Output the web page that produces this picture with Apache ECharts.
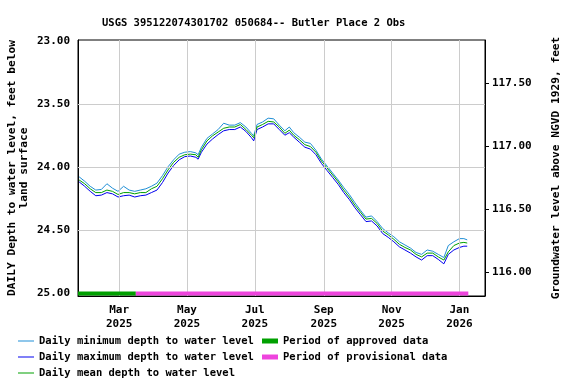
<!DOCTYPE html>
<html>
<head>
<meta charset="utf-8">
<script src="https://cdn.jsdelivr.net/npm/echarts@6/dist/echarts.min.js"></script>
<style>html,body{margin:0;padding:0;background:#fff}#c{width:576px;height:384px}</style>
</head>
<body>
<div id="c"></div>
<script>
const titleText = 'USGS 395122074301702 050684-- Butler Place 2 Obs';
const dates = ['2025-01-24','2025-01-29','2025-02-03','2025-02-08','2025-02-13','2025-02-18','2025-02-23','2025-02-28',
 '2025-03-05','2025-03-10','2025-03-15','2025-03-20','2025-03-25','2025-03-30','2025-04-04','2025-04-09','2025-04-14',
 '2025-04-19','2025-04-24','2025-04-29','2025-05-04','2025-05-09','2025-05-11','2025-05-14','2025-05-19','2025-05-24',
 '2025-05-29','2025-06-03','2025-06-08','2025-06-13','2025-06-18','2025-06-23','2025-06-28','2025-06-30','2025-07-03',
 '2025-07-08','2025-07-13','2025-07-18','2025-07-23','2025-07-28','2025-08-01','2025-08-05','2025-08-10','2025-08-15',
 '2025-08-20','2025-08-25','2025-08-30','2025-09-04','2025-09-09','2025-09-14','2025-09-19','2025-09-24','2025-09-29',
 '2025-10-04','2025-10-09','2025-10-14','2025-10-19','2025-10-24','2025-10-29','2025-11-03','2025-11-08','2025-11-13',
 '2025-11-18','2025-11-23','2025-11-28','2025-12-03','2025-12-08','2025-12-13','2025-12-18','2025-12-22','2025-12-27',
 '2026-01-01','2026-01-05','2026-01-08'];
const meanDepth = [24.10,24.13,24.17,24.20,24.20,24.18,24.19,24.215,
 24.20,24.20,24.21,24.20,24.20,24.17,24.15,24.09,24.02,
 23.96,23.92,23.90,23.895,23.90,23.92,23.86,23.79,23.75,
 23.72,23.69,23.68,23.68,23.66,23.70,23.745,23.765,23.68,
 23.66,23.635,23.64,23.68,23.73,23.705,23.745,23.78,23.82,
 23.835,23.88,23.95,24.005,24.06,24.115,24.18,24.235,24.30,
 24.355,24.41,24.405,24.445,24.505,24.535,24.57,24.61,24.635,
 24.655,24.69,24.71,24.68,24.68,24.71,24.735,24.67,24.62,
 24.60,24.595,24.60];
const minDepth = [24.075,24.11,24.15,24.18,24.175,24.13,24.165,24.19,
 24.15,24.18,24.19,24.18,24.17,24.15,24.125,24.065,23.995,
 23.94,23.895,23.88,23.875,23.885,23.90,23.84,23.77,23.735,
 23.70,23.65,23.665,23.665,23.645,23.68,23.73,23.75,23.66,
 23.64,23.61,23.615,23.665,23.71,23.68,23.725,23.76,23.80,
 23.81,23.865,23.935,23.99,24.045,24.10,24.16,24.215,24.28,
 24.34,24.395,24.385,24.43,24.485,24.52,24.55,24.59,24.615,
 24.64,24.675,24.69,24.655,24.665,24.69,24.715,24.62,24.59,
 24.565,24.565,24.575];
const maxDepth = [24.115,24.15,24.19,24.225,24.22,24.20,24.21,24.235,
 24.225,24.22,24.235,24.225,24.22,24.20,24.18,24.12,24.045,
 23.985,23.94,23.915,23.91,23.92,23.935,23.88,23.815,23.775,
 23.74,23.71,23.70,23.70,23.68,23.715,23.765,23.79,23.70,
 23.68,23.655,23.655,23.70,23.745,23.725,23.76,23.80,23.84,
 23.855,23.90,23.97,24.025,24.08,24.135,24.20,24.255,24.32,
 24.375,24.43,24.425,24.465,24.525,24.555,24.59,24.63,24.655,
 24.68,24.71,24.735,24.70,24.70,24.73,24.765,24.69,24.655,
 24.635,24.625,24.625];
const approvedPeriod = ['2025-01-23','2025-03-16'];
const provisionalPeriod = ['2025-03-16','2026-01-09'];
const periodDepth = 25.0;
const leftTicks = [23.0,23.5,24.0,24.5,25.0];
const rightTicks = [116.0,116.5,117.0,117.5];
const gridDepths = [23.5,24.0,24.5];
const monthTicks = ['2025-03-01','2025-05-01','2025-07-01','2025-09-01','2025-11-01','2026-01-01'];
const monthLabels = ['Mar\n2025','May\n2025','Jul\n2025','Sep\n2025','Nov\n2025','Jan\n2026'];
const xRange = ['2025-01-23','2026-01-24'];
const depthRange = [22.99,25.02];
const landSurface = 140.83;

const FONT = 'DejaVu Sans Mono';
const ts = s => { const p = s.split('-').map(Number); return Date.UTC(p[0], p[1]-1, p[2]); };
const monthTs = monthTicks.map(ts);

const chart = echarts.init(document.getElementById('c'), null, {renderer:'canvas'});
const pair = (xs, ys) => xs.map((d,i)=>[ts(d), ys[i]]);
const tStyle = {fontFamily:FONT, fontWeight:'bold', color:'#000'};

chart.setOption({
  animation:false,
  backgroundColor:'#fff',
  title:{text:titleText, left:97, top:13, textStyle:Object.assign({fontSize:10.5}, tStyle)},
  grid:{left:78, right:91, top:40, bottom:88, show:true, borderColor:'#000', borderWidth:1,
    containLabel:false, outerBoundsMode:'none'},
  xAxis:{type:'value', min:ts(xRange[0]), max:ts(xRange[1]),
    axisLine:{show:true, lineStyle:{color:'#000'}},
    axisTick:{show:false},
    splitLine:{show:false},
    axisLabel:{customValues:monthTs, margin:7, lineHeight:14,
      fontFamily:FONT, fontWeight:'bold', fontSize:11, color:'#000',
      formatter:(v)=>{const i = monthTs.indexOf(v); return i>=0 ? monthLabels[i] : '';}}
  },
  yAxis:[
    {type:'value', inverse:true, min:depthRange[0], max:depthRange[1], position:'left',
      name:'DAILY Depth to water level, feet below\nland surface', nameLocation:'middle', nameGap:48, nameRotate:90,
      nameMoveOverlap:false,
      nameTextStyle:{fontFamily:FONT, fontWeight:'bold', fontSize:11.2, color:'#000', lineHeight:12, align:'center'},
      axisLine:{show:true, lineStyle:{color:'#000'}}, axisTick:{show:false}, splitLine:{show:false},
      axisLabel:{customValues:leftTicks, margin:8, fontFamily:FONT, fontWeight:'bold', fontSize:11, color:'#000',
        formatter:v=>Number(v).toFixed(2)}},
    {type:'value', min:landSurface-depthRange[1], max:landSurface-depthRange[0], position:'right',
      name:'Groundwater level above NGVD 1929, feet', nameLocation:'middle', nameGap:66, nameRotate:90,
      nameMoveOverlap:false,
      nameTextStyle:{fontFamily:FONT, fontWeight:'bold', fontSize:11.2, color:'#000'},
      axisLine:{show:true, lineStyle:{color:'#000'}},
      axisTick:{show:true, customValues:rightTicks, length:4, lineStyle:{color:'#000'}}, splitLine:{show:false},
      axisLabel:{customValues:rightTicks, margin:7, fontFamily:FONT, fontWeight:'bold', fontSize:11, color:'#000',
        formatter:v=>Number(v).toFixed(2)}}
  ],
  legend:[
    {orient:'vertical', left:18, top:333, padding:0, icon:'rect', itemWidth:16, itemHeight:1, itemGap:0,
      textStyle:Object.assign({fontSize:10.5, lineHeight:16}, tStyle),
      data:['Daily minimum depth to water level','Daily maximum depth to water level','Daily mean depth to water level']},
    {orient:'vertical', left:262, top:333, padding:0, icon:'rect', itemWidth:16, itemHeight:5, itemGap:0,
      textStyle:Object.assign({fontSize:10.5, lineHeight:16}, tStyle),
      data:['Period of approved data','Period of provisional data']}
  ],
  series:[
    {name:'grid', type:'line', z:1, data:[[ts(dates[0]), meanDepth[0]]], showSymbol:false, symbol:'none',
      lineStyle:{opacity:0}, silent:true,
      markLine:{silent:true, symbol:'none', label:{show:false}, animation:false,
        lineStyle:{color:'#cccccc', type:'solid', width:1},
        data:gridDepths.map(v=>({yAxis:v})).concat(monthTs.map(m=>({xAxis:m})))}},
    {name:'Daily minimum depth to water level', type:'line', symbol:'none', z:2,
      data:pair(dates,minDepth), lineStyle:{color:'#1f8fd6', width:1}, itemStyle:{color:'#1f8fd6'}},
    {name:'Daily maximum depth to water level', type:'line', symbol:'none', z:3,
      data:pair(dates,maxDepth), lineStyle:{color:'#0000ee', width:1}, itemStyle:{color:'#0000ee'}},
    {name:'Daily mean depth to water level', type:'line', symbol:'none', z:4,
      data:pair(dates,meanDepth), lineStyle:{color:'#00a000', width:1}, itemStyle:{color:'#00a000'}},
    {name:'Period of approved data', type:'line', symbol:'none', z:5,
      data:approvedPeriod.map(d=>[ts(d), periodDepth]), lineStyle:{color:'#00a000', width:4}, itemStyle:{color:'#00a000'}},
    {name:'Period of provisional data', type:'line', symbol:'none', z:5,
      data:provisionalPeriod.map(d=>[ts(d), periodDepth]), lineStyle:{color:'#ee44dd', width:4}, itemStyle:{color:'#ee44dd'}}
  ]
});
</script>
</body>
</html>
